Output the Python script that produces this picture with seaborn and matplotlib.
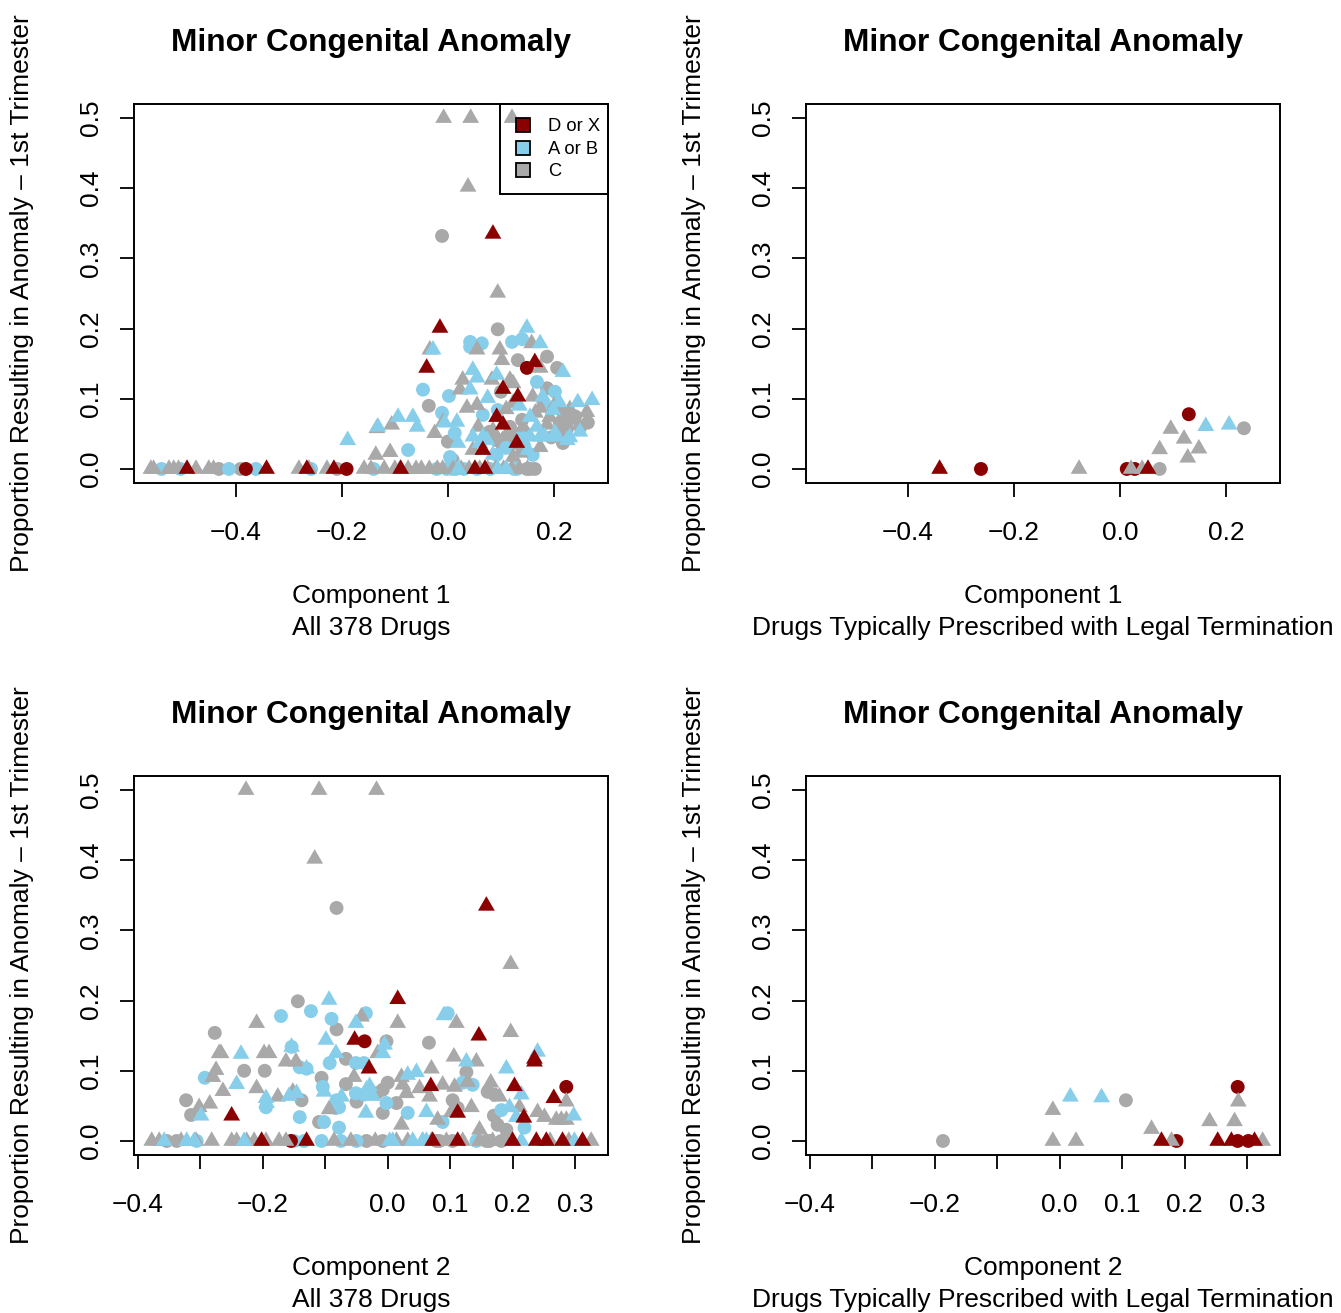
import matplotlib
matplotlib.use('Agg')
import matplotlib.pyplot as plt
from matplotlib.lines import Line2D
from matplotlib.patches import Rectangle
import seaborn as sns
import pandas as pd

# ---- data (component score, proportion) ----
# panel 1: component 1, all drugs
c1_gray_tri_x = [-0.008, 0.043, 0.121, 0.038, 0.094, -0.034, 0.055, 0.158, 0.098, 0.102, 0.174,
                 0.028, 0.083, 0.117, 0.123, 0.160, 0.023, 0.036, 0.055, 0.123, 0.174, 0.262, 0.187,
                 0.174, 0.142, 0.136, 0.123, 0.047, -0.009, -0.025, -0.136, -0.109, -0.134, -0.106,
                 0.057, 0.192, 0.142, 0.210, 0.240, 0.200, 0.215, 0.230, 0.165, 0.110, 0.085,
                 -0.560, -0.555, -0.526, -0.517, -0.508, -0.475, -0.451, -0.442, -0.281, -0.262,
                 -0.228, -0.158, -0.145, -0.120, -0.100, -0.090, -0.075, -0.060, -0.050, -0.035,
                 -0.020, -0.010, 0.010, 0.025, 0.040, 0.060, 0.075, 0.090, 0.105, 0.120, 0.135, 0.150]
c1_gray_tri_y = [0.500, 0.500, 0.500, 0.402, 0.251, 0.170, 0.170, 0.179, 0.170, 0.155, 0.144,
                 0.127, 0.127, 0.127, 0.122, 0.103, 0.113, 0.087, 0.091, 0.094, 0.087, 0.081, 0.063,
                 0.031, 0.060, 0.023, 0.017, 0.027, 0.067, 0.051, 0.020, 0.024, 0.058, 0.063,
                 0.060, 0.074, 0.030, 0.050, 0.070, 0.090, 0.060, 0.085, 0.080, 0.085, 0.055,
                 0.0, 0.0, 0.0, 0.0, 0.0, 0.0, 0.0, 0.0, 0.0, 0.0,
                 0.0, 0.0, 0.0, 0.0, 0.0, 0.0, 0.0, 0.0, 0.0, 0.0,
                 0.0, 0.0, 0.0, 0.0, 0.0, 0.0, 0.0, 0.0, 0.0, 0.0, 0.0, 0.0]
c1_gray_dot_x = [-0.011, 0.094, 0.132, 0.187, 0.206, 0.187, -0.036, 0.264, 0.217, 0.230, 0.211,
                 0.225, 0.217, 0.117, 0.123, 0.111, 0.130, 0.079, 0.092, 0.104, 0.000, 0.009, 0.111,
                 0.240, 0.195, 0.250, 0.140, 0.100,
                 -0.432, -0.391, -0.209, 0.149, 0.155, 0.164]
c1_gray_dot_y = [0.332, 0.199, 0.155, 0.160, 0.144, 0.115, 0.090, 0.066, 0.081, 0.074, 0.066,
                 0.058, 0.037, 0.060, 0.051, 0.041, 0.037, 0.053, 0.041, 0.031, 0.039, 0.013, 0.046,
                 0.075, 0.045, 0.060, 0.070, 0.110,
                 0.0, 0.0, 0.0, 0.0, 0.0, 0.0]
c1_blue_dot_x = [0.042, 0.042, 0.064, 0.121, 0.140, -0.047, 0.002, 0.168, 0.202, 0.094, 0.066,
                 -0.011, 0.013, 0.004, 0.092, -0.075, 0.142, 0.180, 0.110, 0.160,
                 -0.540, -0.504, -0.413, -0.362, -0.258, -0.140, -0.021, -0.002, 0.008, 0.015,
                 0.030, 0.055, 0.080, 0.125, 0.130]
c1_blue_dot_y = [0.181, 0.174, 0.179, 0.181, 0.185, 0.113, 0.104, 0.124, 0.110, 0.084, 0.077,
                 0.080, 0.051, 0.017, 0.020, 0.027, 0.051, 0.095, 0.030, 0.020,
                 0.0, 0.0, 0.0, 0.0, 0.0, 0.0, 0.0, 0.0, 0.0, 0.0,
                 0.0, 0.0, 0.0, 0.0, 0.0]
c1_blue_tri_x = [0.149, -0.028, 0.174, 0.217, 0.047, 0.055, 0.092, 0.179, 0.075, 0.042, 0.245,
                 0.272, 0.249, 0.198, 0.202, 0.225, 0.155, 0.168, 0.155, 0.183, 0.142, 0.151, 0.047,
                 0.060, 0.074, -0.006, 0.017, 0.019, -0.132, -0.094, -0.066, -0.058, -0.189, 0.174,
                 0.206, 0.066, 0.210, 0.135, 0.230, 0.085, 0.020, 0.094, 0.110]
c1_blue_tri_y = [0.201, 0.170, 0.179, 0.138, 0.141, 0.130, 0.134, 0.103, 0.101, 0.113, 0.095,
                 0.098, 0.053, 0.084, 0.051, 0.041, 0.074, 0.060, 0.046, 0.046, 0.041, 0.027, 0.046,
                 0.037, 0.041, 0.066, 0.067, 0.037, 0.060, 0.074, 0.074, 0.060, 0.041, 0.046,
                 0.046, 0.046, 0.095, 0.090, 0.045, 0.020, 0.0, 0.0, 0.0]
c1_red_tri_x = [-0.015, 0.085, 0.164, -0.040, 0.104, 0.132, 0.104, 0.092, 0.130, 0.066,
                -0.492, -0.342, -0.266, -0.215, -0.089, 0.051, 0.070]
c1_red_tri_y = [0.201, 0.335, 0.152, 0.144, 0.114, 0.103, 0.063, 0.074, 0.037, 0.027,
                0.0, 0.0, 0.0, 0.0, 0.0, 0.0, 0.0]
c1_red_dot_x = [0.149, -0.381, -0.191]
c1_red_dot_y = [0.144, 0.0, 0.0]

# panel 2: component 1, drugs typically prescribed with legal termination
t1_gray_tri_x = [-0.077, 0.021, 0.042, 0.096, 0.121, 0.128, 0.149, 0.075]
t1_gray_tri_y = [0.0, 0.0, 0.0, 0.057, 0.043, 0.016, 0.029, 0.028]
t1_gray_dot_x = [0.075, 0.234]
t1_gray_dot_y = [0.0, 0.058]
t1_blue_tri_x = [0.162, 0.206]
t1_blue_tri_y = [0.061, 0.063]
t1_red_tri_x = [-0.340, 0.053]
t1_red_tri_y = [0.0, 0.0]
t1_red_dot_x = [-0.262, 0.013, 0.028, 0.130]
t1_red_dot_y = [0.0, 0.0, 0.0, 0.078]

# panel 3: component 2, all drugs
c2_gray_tri_x = [-0.227, -0.110, -0.018, -0.117, 0.197, -0.210, -0.042, -0.270, -0.267, -0.198,
                 -0.190, -0.163, -0.147, -0.275, -0.280, -0.054, -0.264, -0.210, -0.302, -0.285,
                 -0.176, -0.152, -0.094, 0.016, 0.110, 0.197, -0.016, 0.106, 0.142, 0.070, 0.022,
                 0.024, 0.088, 0.107, 0.128, 0.165, 0.179, 0.286, 0.030, 0.051, 0.067, 0.134,
                 0.102, 0.211, 0.240, 0.251, 0.270, 0.278, 0.286, 0.080, 0.022, 0.147,
                 -0.378, -0.366, -0.331, -0.307, -0.282, -0.250, -0.242, -0.226, -0.214, -0.195,
                 -0.174, -0.163, -0.086, -0.059, -0.020, 0.014, 0.032, 0.056, 0.070, 0.094, 0.120,
                 0.147, 0.168, 0.190, 0.260, 0.290, 0.326]
c2_gray_tri_y = [0.500, 0.500, 0.500, 0.402, 0.252, 0.168, 0.177, 0.125, 0.125, 0.125,
                 0.125, 0.113, 0.113, 0.101, 0.091, 0.091, 0.071, 0.075, 0.048, 0.053,
                 0.063, 0.070, 0.045, 0.168, 0.168, 0.155, 0.125, 0.120, 0.113, 0.103, 0.091,
                 0.080, 0.080, 0.077, 0.084, 0.083, 0.063, 0.056, 0.068, 0.075, 0.063, 0.048,
                 0.041, 0.048, 0.041, 0.034, 0.030, 0.030, 0.030, 0.030, 0.023, 0.016,
                 0.0, 0.0, 0.0, 0.0, 0.0, 0.0, 0.0, 0.0, 0.0, 0.0,
                 0.0, 0.0, 0.0, 0.0, 0.0, 0.0, 0.0, 0.0, 0.0, 0.0, 0.0,
                 0.0, 0.0, 0.0, 0.0, 0.0, 0.0]
c2_gray_dot_x = [-0.082, -0.144, -0.277, -0.082, -0.067, -0.230, -0.197, -0.106, -0.067, -0.323,
                 -0.315, -0.138, -0.110, -0.050, -0.002, 0.066, 0.126, 0.000, 0.160, 0.171,
                 -0.018, -0.008, 0.014, 0.104, 0.112, 0.170, -0.008, 0.176, 0.190,
                 -0.354, -0.338, -0.034, -0.008, 0.078, 0.083, 0.104, 0.158, 0.163, 0.182]
c2_gray_dot_y = [0.332, 0.199, 0.154, 0.159, 0.117, 0.100, 0.100, 0.090, 0.081, 0.058,
                 0.037, 0.058, 0.027, 0.056, 0.142, 0.140, 0.098, 0.083, 0.070, 0.066,
                 0.068, 0.073, 0.054, 0.058, 0.047, 0.036, 0.040, 0.023, 0.016,
                 0.0, 0.0, 0.0, 0.0, 0.0, 0.0, 0.0, 0.0, 0.0, 0.0]
c2_blue_dot_x = [-0.171, -0.123, -0.090, -0.035, -0.154, -0.141, -0.130, -0.093, -0.051, -0.038,
                 -0.293, -0.104, -0.195, -0.141, -0.102, -0.082, -0.078, -0.083, -0.078, -0.051,
                 -0.038, 0.096, 0.120, 0.136, -0.002, 0.032, 0.182, 0.088, 0.219,
                 -0.306, -0.150, -0.134, -0.106, -0.075, -0.050, 0.142]
c2_blue_dot_y = [0.178, 0.185, 0.174, 0.182, 0.134, 0.105, 0.103, 0.111, 0.111, 0.111,
                 0.090, 0.077, 0.048, 0.034, 0.027, 0.058, 0.048, 0.047, 0.019, 0.068,
                 0.066, 0.182, 0.083, 0.080, 0.054, 0.040, 0.044, 0.027, 0.019,
                 0.0, 0.0, 0.0, 0.0, 0.0, 0.0, 0.0]
c2_blue_tri_x = [-0.094, -0.051, -0.099, -0.235, -0.154, -0.130, -0.083, -0.242, -0.102, -0.299,
                 -0.195, -0.194, -0.158, -0.146, -0.074, -0.034, -0.035, 0.090, -0.005, -0.008,
                 0.240, 0.126, 0.190, 0.046, 0.032, -0.029, 0.214, -0.024, 0.062, 0.195, 0.206,
                 0.298,
                 -0.358, -0.322, -0.310, -0.230, 0.003, 0.008, 0.040, 0.056, 0.062, 0.214, 0.299]
c2_blue_tri_y = [0.201, 0.168, 0.144, 0.124, 0.134, 0.103, 0.125, 0.081, 0.070, 0.036,
                 0.061, 0.054, 0.064, 0.068, 0.063, 0.073, 0.040, 0.179, 0.137, 0.125,
                 0.127, 0.113, 0.103, 0.098, 0.094, 0.078, 0.066, 0.064, 0.041, 0.048, 0.034,
                 0.036,
                 0.0, 0.0, 0.0, 0.0, 0.0, 0.0, 0.0, 0.0, 0.0, 0.0, 0.0]
c2_red_tri_x = [0.158, -0.053, -0.250, -0.030, 0.016, 0.146, 0.235, 0.235, 0.069, 0.203, 0.266,
                0.112, 0.218, -0.202, -0.130, 0.072, 0.112, 0.200, 0.238, 0.254, 0.280, 0.312]
c2_red_tri_y = [0.335, 0.144, 0.036, 0.103, 0.202, 0.150, 0.117, 0.113, 0.078, 0.078, 0.061,
                0.040, 0.033, 0.0, 0.0, 0.0, 0.0, 0.0, 0.0, 0.0, 0.0, 0.0]
c2_red_dot_x = [-0.037, 0.286, -0.155]
c2_red_dot_y = [0.142, 0.077, 0.0]

# panel 4: component 2, drugs typically prescribed with legal termination
t2_gray_tri_x = [-0.011, -0.011, 0.026, 0.147, 0.179, 0.240, 0.325, 0.280, 0.286]
t2_gray_tri_y = [0.044, 0.0, 0.0, 0.017, 0.0, 0.028, 0.0, 0.028, 0.056]
t2_gray_dot_x = [-0.187, 0.106]
t2_gray_dot_y = [0.0, 0.058]
t2_blue_tri_x = [0.017, 0.067]
t2_blue_tri_y = [0.063, 0.062]
t2_red_tri_x = [0.163, 0.253, 0.275, 0.312]
t2_red_tri_y = [0.0, 0.0, 0.0, 0.0]
t2_red_dot_x = [0.187, 0.285, 0.302, 0.285]
t2_red_dot_y = [0.0, 0.0, 0.0, 0.077]

categories = ['D or X', 'A or B', 'C']
palette = {'D or X': '#8B0000', 'A or B': '#87CEEB', 'C': '#A9A9A9'}

TRI = [(0, 1), (-0.866, -0.5), (0.866, -0.5)]


def frame(groups):
    parts = []
    for cat, shape, xs, ys in groups:
        parts.append(pd.DataFrame({'x': xs, 'y': ys, 'cat': cat, 'shape': shape}))
    return pd.concat(parts, ignore_index=True)


def panel_groups(p):
    g = globals()
    return [('C', 'dot', g[p + '_gray_dot_x'], g[p + '_gray_dot_y']),
            ('C', 'tri', g[p + '_gray_tri_x'], g[p + '_gray_tri_y']),
            ('A or B', 'dot', g.get(p + '_blue_dot_x', []), g.get(p + '_blue_dot_y', [])),
            ('A or B', 'tri', g[p + '_blue_tri_x'], g[p + '_blue_tri_y']),
            ('D or X', 'dot', g[p + '_red_dot_x'], g[p + '_red_dot_y']),
            ('D or X', 'tri', g[p + '_red_tri_x'], g[p + '_red_tri_y'])]


sns.set_style('white')
plt.rcParams['font.family'] = ['Liberation Sans', 'DejaVu Sans']
plt.rcParams['text.color'] = 'black'
plt.rcParams['axes.labelcolor'] = 'black'
plt.rcParams['xtick.color'] = 'black'
plt.rcParams['ytick.color'] = 'black'
FS = 19

fig = plt.figure(figsize=(13.41, 13.13), dpi=100)
W, H = 1341.0, 1313.0
boxes = {'c1': (134, 104), 't1': (806, 104), 'c2': (134, 776), 't2': (806, 776)}
sub1 = 'All 378 Drugs'
sub2 = 'Drugs Typically Prescribed with Legal Termination'
info = {'c1': ('Component 1', sub1), 't1': ('Component 1', sub2),
        'c2': ('Component 2', sub1), 't2': ('Component 2', sub2)}
ylab = 'Proportion Resulting in Anomaly \u2013 1st Trimester'

for key, (px, py) in boxes.items():
    ax = fig.add_axes([px / W, 1 - (py + 379) / H, 474 / W, 379 / H])
    df = frame(panel_groups(key))
    for shape, mk, size in [('dot', 'o', 100), ('tri', TRI, 195)]:
        sub = df[df['shape'] == shape]
        sns.scatterplot(data=sub, x='x', y='y', hue='cat', palette=palette,
                        marker=mk, s=size, linewidth=0, edgecolor='none',
                        legend=False, ax=ax, zorder=3)
    if key in ('c1', 't1'):
        ax.set_xlim(-0.592, 0.302)
        xt = [-0.4, -0.2, 0.0, 0.2]
        ax.set_xticks(xt)
        ax.set_xticklabels([f'{v:.1f}'.replace('-', '\u2212') for v in xt])
    else:
        ax.set_xlim(-0.4064, 0.3528)
        xt = [-0.4, -0.3, -0.2, -0.1, 0.0, 0.1, 0.2, 0.3]
        ax.set_xticks(xt)
        lbl = [f'{v:.1f}'.replace('-', '\u2212') for v in xt]
        lbl[1] = ''
        lbl[3] = ''
        ax.set_xticklabels(lbl)
    ax.set_ylim(-0.02, 0.52)
    yt = [0.0, 0.1, 0.2, 0.3, 0.4, 0.5]
    ax.set_yticks(yt)
    ax.set_yticklabels([f'{v:.1f}' for v in yt])
    for t in ax.get_yticklabels():
        t.set_rotation(90)
        t.set_va('center')
    ax.tick_params(axis='both', direction='out', length=10, width=1.3,
                   labelsize=FS, color='black', labelcolor='black',
                   bottom=True, left=True, top=False, right=False)
    ax.tick_params(axis='x', pad=17)
    ax.tick_params(axis='y', pad=12)
    ax.set_xlabel('')
    ax.set_ylabel('')
    for sp in ax.spines.values():
        sp.set_visible(True)
        sp.set_color('black')
        sp.set_linewidth(1.4)
    ax.set_title('Minor Congenital Anomaly', fontsize=FS * 1.2,
                 fontweight='bold', pad=38, color='black')
    l1, l2 = info[key]
    ax.text(0.5, -0.298, l1, transform=ax.transAxes, ha='center', va='center', fontsize=FS)
    ax.text(0.5, -0.383, l2, transform=ax.transAxes, ha='center', va='center', fontsize=FS)
    ax.text(-0.236, 0.5, ylab, transform=ax.transAxes, rotation=90,
            ha='center', va='center', fontsize=FS)
    if key == 'c1':
        handles = [Line2D([], [], linestyle='none', marker='s', markersize=9.5,
                          markerfacecolor=palette[c], markeredgecolor='black',
                          markeredgewidth=1.3, label=c) for c in categories]
        leg = ax.legend(handles=handles, loc='center', bbox_to_anchor=(0.8865, 0.880),
                        borderaxespad=0, borderpad=0, fontsize=13.2, frameon=False,
                        handlelength=1.6, handletextpad=0.57, labelspacing=0.3)
        leg.set_zorder(5)
        ax.add_patch(Rectangle((0.772, 0.7625), 0.228, 0.2375, transform=ax.transAxes,
                               fill=False, edgecolor='black', linewidth=1.4,
                               zorder=5, clip_on=False))

fig.savefig('out.png', dpi=100)
